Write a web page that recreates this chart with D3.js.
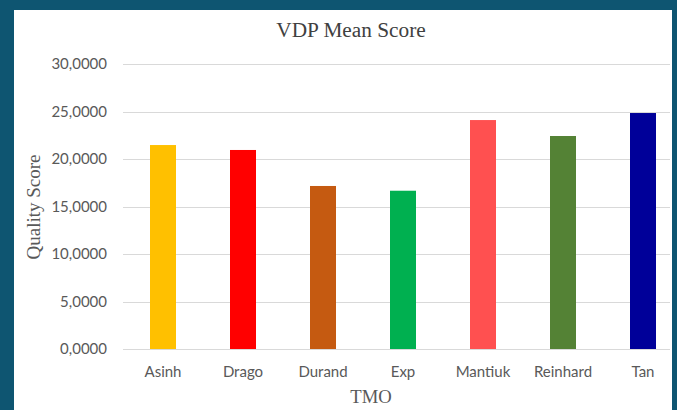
<!DOCTYPE html>
<html>
<head>
<meta charset="utf-8">
<script src="https://cdn.jsdelivr.net/npm/d3@7"></script>
<style>
  html, body { margin: 0; padding: 0; background: #0e5571; }
  svg { display: block; }
</style>
</head>
<body>
<svg id="chart" width="677" height="410"></svg>
<script>
// chart data
const categories = ["Asinh", "Drago", "Durand", "Exp", "Mantiuk", "Reinhard", "Tan"];
const scores = [21.47, 20.95, 17.16, 16.66, 24.1, 22.42, 24.84];
const barColors = ["#ffc000", "#ff0000", "#c55a11", "#00b050", "#ff5050", "#548235", "#000099"];
const yTicks = [0, 5, 10, 15, 20, 25, 30];

const svg = d3.select("#chart");

// white chart panel
svg.append("rect")
    .attr("x", 14).attr("y", 10)
    .attr("width", 658).attr("height", 400)
    .attr("fill", "#ffffff");

const x = d3.scaleBand()
    .domain(categories)
    .range([123, 683])
    .paddingInner(0.675)
    .paddingOuter(0.3375);

const y = d3.scaleLinear()
    .domain([0, 30])
    .range([349, 64]);

const fmt = d3.formatLocale({decimal: ",", thousands: ".", grouping: [3], currency: ["", ""]}).format(".4f");

const clip = svg.append("defs").append("clipPath").attr("id", "panel")
    .append("rect").attr("x", 14).attr("y", 10).attr("width", 658).attr("height", 400);

const plot = svg.append("g").attr("clip-path", "url(#panel)");

// gridlines
plot.selectAll("line.grid")
    .data(yTicks)
    .join("line")
    .attr("class", "grid")
    .attr("x1", 123).attr("x2", 670)
    .attr("y1", d => Math.round(y(d)) + 0.5)
    .attr("y2", d => Math.round(y(d)) + 0.5)
    .attr("stroke", "#d9d9d9")
    .attr("stroke-width", 1);

// bars
plot.selectAll("rect.bar")
    .data(categories)
    .join("rect")
    .attr("class", "bar")
    .attr("x", d => x(d))
    .attr("width", x.bandwidth())
    .attr("y", (d, i) => y(scores[i]))
    .attr("height", (d, i) => y(0) - y(scores[i]))
    .attr("fill", (d, i) => barColors[i]);

// y tick labels
svg.selectAll("text.ytick")
    .data(yTicks)
    .join("text")
    .attr("class", "ytick")
    .attr("x", 107)
    .attr("y", d => y(d) + 5)
    .attr("text-anchor", "end")
    .attr("font-family", "Lato, sans-serif")
    .attr("font-size", "15px")
    .attr("fill", "#595959")
    .text(d => fmt(d));

// x category labels
svg.selectAll("text.xtick")
    .data(categories)
    .join("text")
    .attr("class", "xtick")
    .attr("x", d => x(d) + x.bandwidth() / 2)
    .attr("y", 377)
    .attr("text-anchor", "middle")
    .attr("font-family", "Lato, sans-serif")
    .attr("font-size", "15px")
    .attr("fill", "#595959")
    .text(d => d);

// titles
svg.append("text")
    .attr("x", 351).attr("y", 37)
    .attr("text-anchor", "middle")
    .attr("font-family", "'Liberation Serif', serif")
    .attr("font-size", "21.3px")
    .attr("fill", "#404040")
    .text("VDP Mean Score");

svg.append("text")
    .attr("x", 371).attr("y", 403)
    .attr("text-anchor", "middle")
    .attr("font-family", "'Liberation Serif', serif")
    .attr("font-size", "18.7px")
    .attr("fill", "#595959")
    .text("TMO");

svg.append("text")
    .attr("transform", "translate(40,207) rotate(-90)")
    .attr("text-anchor", "middle")
    .attr("font-family", "'Liberation Serif', serif")
    .attr("font-size", "19px")
    .attr("fill", "#595959")
    .text("Quality Score");
</script>
</body>
</html>
